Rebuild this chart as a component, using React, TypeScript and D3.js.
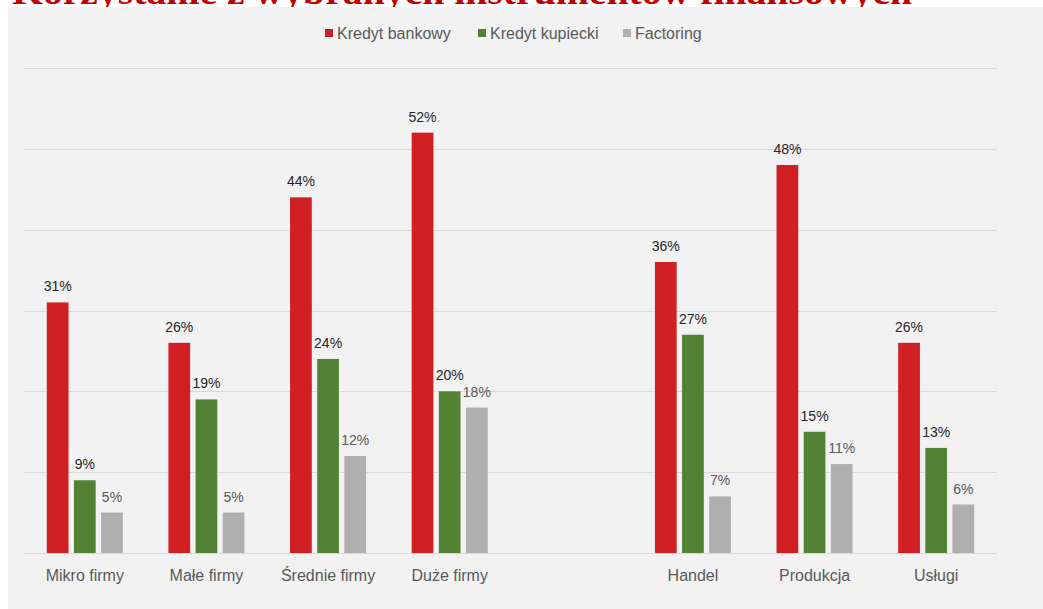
import React from "react";
import * as d3 from "d3";

const title = "Korzystanie z wybranych instrumentów finansowych";
const categories = ["Mikro firmy", "Małe firmy", "Średnie firmy", "Duże firmy", "", "Handel", "Produkcja", "Usługi"];
const seriesNames = ["Kredyt bankowy", "Kredyt kupiecki", "Factoring"];
const kredytBankowy: (number | null)[] = [31, 26, 44, 52, null, 36, 48, 26];
const kredytKupiecki: (number | null)[] = [9, 19, 24, 20, null, 27, 15, 13];
const factoring: (number | null)[] = [5, 5, 12, 18, null, 7, 11, 6];
const yTicks = [0, 10, 20, 30, 40, 50, 60];

const seriesValues = [kredytBankowy, kredytKupiecki, factoring];
const colors = ["#d02023", "#548235", "#afafaf"];
const labelColors = ["#262626", "#262626", "#595959"];

export default function App() {
  const W = 1043, H = 609;
  const left = 24, right = 997, top = 68, bottom = 553;
  const x0 = d3.scaleBand<number>().domain(d3.range(categories.length)).range([left, right]).padding(0);
  const bw = x0.bandwidth();
  const x1 = d3.scaleBand<number>().domain([0, 1, 2]).range([bw * 0.1875, bw * 0.8125]).paddingInner(0.2).paddingOuter(0);
  const y = d3.scaleLinear().domain([0, 60]).range([bottom, top]);
  const font = "Arial, 'Liberation Sans', sans-serif";

  const legendX = [325, 478, 623];

  return (
    <svg width={W} height={H} style={{ position: "absolute", left: 0, top: 0 }} fontFamily={font}>
      <rect x={0} y={0} width={W} height={H} fill="#ffffff" />
      <text x={12} y={4} fontFamily="'Liberation Serif', 'DejaVu Serif', serif" fontWeight="bold" fontSize={36} fill="#c00000" textLength={900} lengthAdjust="spacingAndGlyphs">{title}</text>
      <rect x={8} y={7} width={W - 8} height={H - 7} fill="#f2f2f2" />
      {yTicks.map((t) => (
        <line key={t} x1={left} x2={right} y1={Math.round(y(t)) + 0.5} y2={Math.round(y(t)) + 0.5} stroke="#d9d9d9" strokeWidth={1} />
      ))}
      {seriesValues.map((vals, si) =>
        vals.map((v, ci) => {
          if (v == null) return null;
          const bx = (x0(ci) as number) + (x1(si) as number);
          const by = y(v);
          return (
            <g key={`${si}-${ci}`}>
              <rect x={bx} y={by} width={x1.bandwidth()} height={bottom - by} fill={colors[si]} />
              <text x={bx + x1.bandwidth() / 2} y={by - 11} textAnchor="middle" fontSize={14} fill={labelColors[si]}>{v}%</text>
            </g>
          );
        })
      )}
      {categories.map((c, i) => (
        <text key={i} x={(x0(i) as number) + bw / 2} y={581} textAnchor="middle" fontSize={16} fill="#595959">{c}</text>
      ))}
      {seriesNames.map((s, i) => (
        <g key={s}>
          <rect x={legendX[i]} y={29} width={8} height={8} fill={colors[i]} />
          <text x={legendX[i] + 12} y={39} fontSize={16} fill="#595959">{s}</text>
        </g>
      ))}
    </svg>
  );
}
